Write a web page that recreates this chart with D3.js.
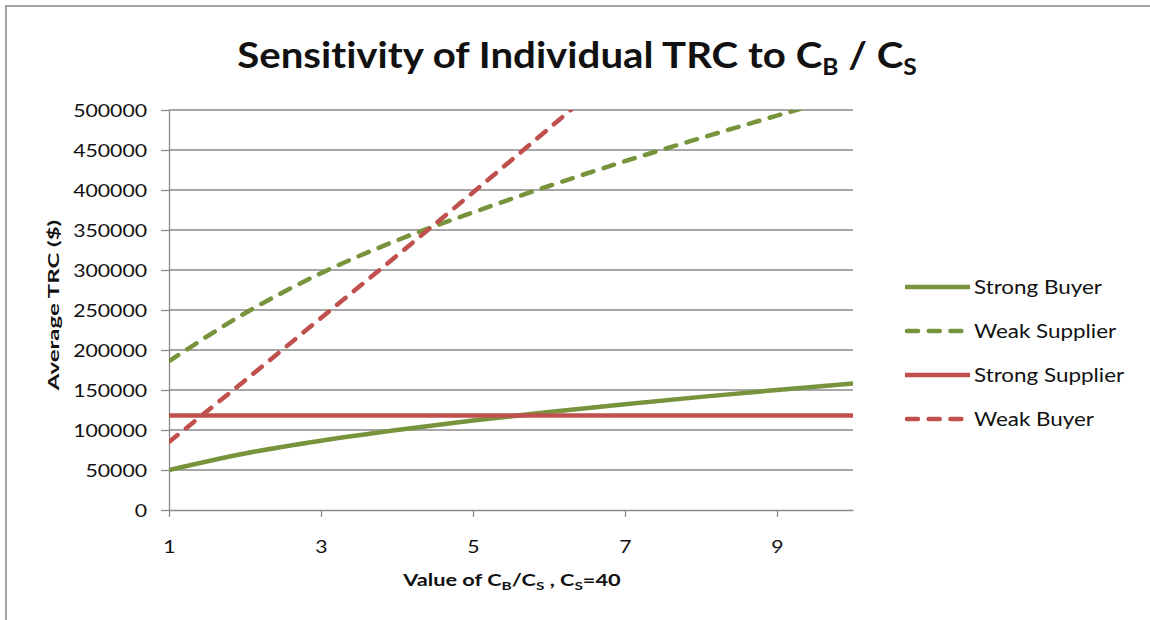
<!DOCTYPE html>
<html>
<head>
<meta charset="utf-8">
<script src="https://cdn.jsdelivr.net/npm/d3@7"></script>
<style>
  body { margin: 0; background: #fff; }
  svg { display: block; }
  text { font-family: Lato, "Open Sans", sans-serif; fill: #111; font-variant-ligatures: none; }
</style>
</head>
<body>
<svg id="chart" width="1150" height="620"></svg>
<script>
// Ratio C_B / C_S on the category axis
const xValues = [1, 2, 3, 4, 5, 6, 7, 8, 9, 10];

// Average TRC ($) for each party
const strongBuyer    = [50000, 70700, 86600, 100000, 111800, 122500, 132300, 141400, 150000, 158100];
const weakSupplier   = [186000, 246000, 296000, 337000, 372000, 405000, 436000, 465000, 493000, 520000];
const strongSupplier = [118000, 118000, 118000, 118000, 118000, 118000, 118000, 118000, 118000, 118000];
const weakBuyerX     = [1, 2, 3, 4, 5, 6, 7];
const weakBuyer      = [85000, 162000, 240000, 318000, 397000, 477000, 558000];

const yTicks = [0, 50000, 100000, 150000, 200000, 250000, 300000, 350000, 400000, 450000, 500000];
const xTicks = [1, 3, 5, 7, 9];
const seriesNames = ["Strong Buyer", "Weak Supplier", "Strong Supplier", "Weak Buyer"];

const GREEN = "#77933c", RED = "#c0504d", GRID = "#8a8a8a";
const DASH = "11,10.7";
const STRETCH = 1.18;   // horizontal stretch of the text

const series = [
  { name: seriesNames[0], xs: xValues,    ys: strongBuyer,    color: GREEN, dash: null },
  { name: seriesNames[1], xs: xValues,    ys: weakSupplier,   color: GREEN, dash: DASH },
  { name: seriesNames[2], xs: xValues,    ys: strongSupplier, color: RED,   dash: null },
  { name: seriesNames[3], xs: weakBuyerX, ys: weakBuyer,      color: RED,   dash: DASH }
];

const svg = d3.select("#chart");
svg.append("rect").attr("width", 1150).attr("height", 620).attr("fill", "#fff");

// outer chart frame (continues beyond the right and bottom edges)
svg.append("path").attr("d", "M6,640 V6 H1170")
  .attr("fill", "none").attr("stroke", "#a3a3a3").attr("stroke-width", 2);

const plot = { left: 169, right: 853, top: 110, bottom: 510 };
const x = d3.scaleLinear().domain([1, 10]).range([plot.left, plot.right]);
const y = d3.scaleLinear().domain([0, 500000]).range([plot.bottom, plot.top]);

// stretch a text element horizontally around a given anchor x
function stretch(sel, sx, ax) {
  sel.attr("transform", `translate(${ax},0) scale(${sx},1) translate(${-ax},0)`);
}
// scale a text element so its width equals w
function fitWidth(sel, w, ax) {
  const bw = sel.node().getBBox().width;
  stretch(sel, w / bw, ax);
}

// horizontal gridlines
svg.append("g").selectAll("line")
  .data(yTicks.filter(d => d > 0))
  .join("line")
  .attr("x1", plot.left).attr("x2", plot.right)
  .attr("y1", d => y(d)).attr("y2", d => y(d))
  .attr("stroke", GRID).attr("stroke-width", 1.3);

// y axis
const yAxis = svg.append("g")
  .attr("transform", `translate(${plot.left},0)`)
  .call(d3.axisLeft(y).tickValues(yTicks).tickSize(8).tickSizeOuter(0).tickFormat(d3.format("d")));
yAxis.select(".domain").attr("stroke", GRID).attr("stroke-width", 1.3);
yAxis.selectAll(".tick line").attr("stroke", GRID).attr("stroke-width", 1.3);
yAxis.selectAll(".tick text")
  .attr("x", -22).attr("dy", "0.36em")
  .style("font-size", "18px").attr("fill", "#111")
  .each(function () { stretch(d3.select(this), STRETCH, -22); });

// x axis
const xAxis = svg.append("g")
  .attr("transform", `translate(0,${plot.bottom})`)
  .call(d3.axisBottom(x).tickValues(xTicks).tickSize(7).tickSizeOuter(0).tickFormat(d3.format("d")));
xAxis.select(".domain").attr("stroke", GRID).attr("stroke-width", 1.3);
xAxis.selectAll(".tick line").attr("stroke", GRID).attr("stroke-width", 1.3);
xAxis.selectAll(".tick text")
  .attr("y", 43).attr("dy", 0)
  .style("font-size", "18px").attr("fill", "#111")
  .each(function () { stretch(d3.select(this), STRETCH, 0); });

// series lines, clipped to the plot area
svg.append("clipPath").attr("id", "plotClip")
  .append("rect")
  .attr("x", plot.left).attr("y", plot.top)
  .attr("width", plot.right - plot.left).attr("height", plot.bottom - plot.top);

const lines = svg.append("g").attr("clip-path", "url(#plotClip)");
series.forEach(s => {
  const line = d3.line()
    .x((d, i) => x(s.xs[i]))
    .y(d => y(d))
    .curve(d3.curveMonotoneX);
  lines.append("path")
    .attr("d", line(s.ys))
    .attr("fill", "none")
    .attr("stroke", s.color)
    .attr("stroke-width", 4.5)
    .attr("stroke-linecap", s.dash ? "round" : "butt")
    .attr("stroke-dasharray", s.dash);
});

// legend
const legendRows = [287, 331, 375, 419];
const legend = svg.append("g");
series.forEach((s, i) => {
  const ry = legendRows[i];
  legend.append("line")
    .attr("x1", s.dash ? 907 : 905).attr("x2", s.dash ? 962 : 970)
    .attr("y1", ry).attr("y2", ry)
    .attr("stroke", s.color).attr("stroke-width", 4.5)
    .attr("stroke-linecap", s.dash ? "round" : "butt")
    .attr("stroke-dasharray", s.dash);
  const t = legend.append("text")
    .attr("x", 974).attr("y", ry + 7)
    .style("font-size", "19px")
    .text(s.name);
  stretch(t, STRETCH, 974);
});

// title with subscripts
const title = svg.append("text")
  .attr("x", 577).attr("y", 68)
  .attr("text-anchor", "middle")
  .style("font-size", "36px").style("font-weight", 700);
title.append("tspan").text("Sensitivity of Individual TRC to C");
title.append("tspan").text("B").style("font-size", "22px").attr("dy", 7);
title.append("tspan").text(" / C").attr("dy", -7);
title.append("tspan").text("S").style("font-size", "22px").attr("dy", 7);
fitWidth(title, 680, 577);

// x axis title
const xTitle = svg.append("text")
  .attr("x", 512).attr("y", 586)
  .attr("text-anchor", "middle")
  .style("font-size", "17px").style("font-weight", 700);
xTitle.append("tspan").text("Value of C");
xTitle.append("tspan").text("B").style("font-size", "12px").attr("dy", 4);
xTitle.append("tspan").text("/C").attr("dy", -4);
xTitle.append("tspan").text("S").style("font-size", "12px").attr("dy", 4);
xTitle.append("tspan").text(" , C").attr("dy", -4);
xTitle.append("tspan").text("S").style("font-size", "12px").attr("dy", 4);
xTitle.append("tspan").text("=40").attr("dy", -4);
fitWidth(xTitle, 219, 512);

// y axis title
const yTitleG = svg.append("g").attr("transform", "translate(59,305) rotate(-90)");
const yTitle = yTitleG.append("text")
  .attr("x", 0).attr("y", 0)
  .attr("text-anchor", "middle")
  .style("font-size", "16px").style("font-weight", 700)
  .text("Average TRC ($)");
fitWidth(yTitle, 172, 0);
</script>
</body>
</html>
